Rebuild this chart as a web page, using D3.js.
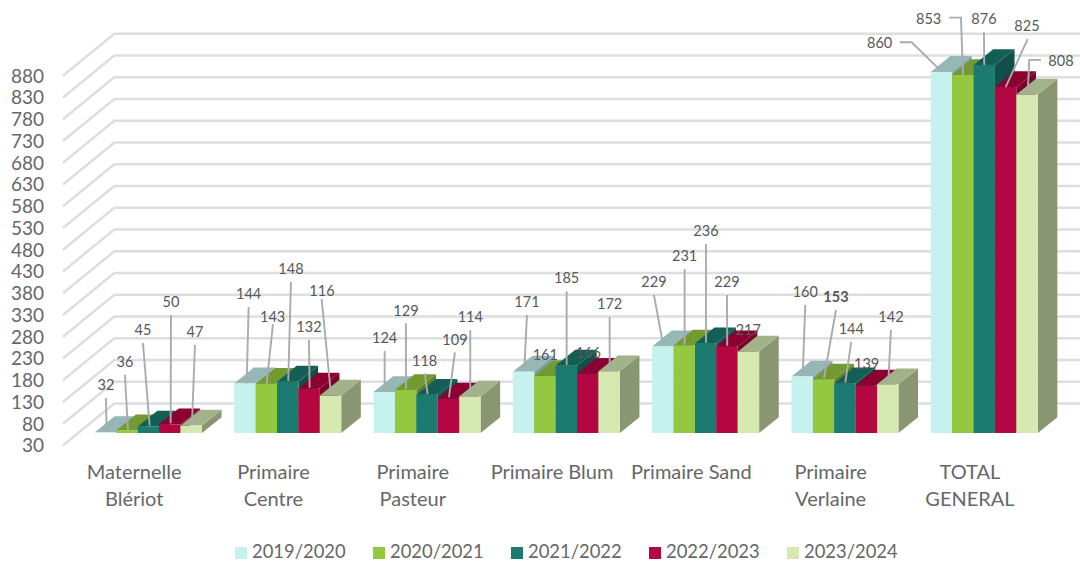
<!DOCTYPE html>
<html><head><meta charset="utf-8">
<script src="https://cdnjs.cloudflare.com/ajax/libs/d3/7.8.5/d3.min.js"></script>
<style>html,body{margin:0;padding:0;background:#fff;overflow:hidden}svg{display:block}text{font-family:Lato,"Open Sans",sans-serif}</style>
</head><body><svg id="c" width="1080" height="561"></svg>
<script>
const categories = [["Maternelle","Blériot"],["Primaire","Centre"],["Primaire","Pasteur"],["Primaire Blum"],["Primaire Sand"],["Primaire","Verlaine"],["TOTAL","GENERAL"]];
const seriesNames = ["2019/2020","2020/2021","2021/2022","2022/2023","2023/2024"];
const values2019 = [32,144,124,171,229,160,860];
const values2020 = [36,143,129,161,231,153,853];
const values2021 = [45,148,118,185,236,144,876];
const values2022 = [50,132,109,166,229,139,825];
const values2023 = [47,116,114,172,217,142,808];
const tickValues = [30,80,130,180,230,280,330,380,430,480,530,580,630,680,730,780,830,880];
const allSeries = [values2019,values2020,values2021,values2022,values2023];

const frontColors = ["#c5f2ee","#93c83f","#1c7b70","#b40640","#d5e9b0"];
const topColors   = ["#95b7b6","#739a30","#135f55","#8b0030","#a2b289"];
const sideColors  = ["#7f9d9b","#5f8228","#11504a","#7a002a","#8a9672"];

// Manual label placement relative to the top of each bar: l = label, s = leader start (from label), m = elbow (from label), e = leader end
const labelLayout = [
 [{l:[.3,-47],e:[1,0]},{l:[-2.1,-68.7],e:[.9,0]},{l:[-5.5,-96.5],e:[1.2,-1]},{l:[1.1,-122.3],e:[.8,-1]},{l:[3.7,-93.6],e:[.7,-1]}],
 [{l:[3.7,-89.4],e:[1.7,0]},{l:[6.3,-66.8],s:[.3,7],e:[.3,0]},{l:[3.2,-112.7],e:[.5,-.7]},{l:[-.2,-61.6],e:[.5,-.9]},{l:[-8.6,-104.6],s:[-.3,8],e:[.4,-1.6]}],
 [{l:[.4,-54.1],e:[.4,-1.1]},{l:[.3,-79.6],e:[.3,-.6]},{l:[-2.4,-34.4],e:[.6,-.7]},{l:[6.5,-59.3],e:[.5,-1.3]},{l:[.4,-79.2],e:[.4,-1.2]}],
 [{l:[3.4,-69.7],e:[.7,-1]},{l:[.3,-21.7]},{l:[.3,-87.3],e:[.3,-.6]},{l:[.5,-21.1]},{l:[.5,-67.2],e:[.5,-.5]}],
 [{l:[-8.9,-64.4],e:[-.6,-6.4]},{l:[.4,-89.6],e:[.4,-.6]},{l:[.3,-112.4],e:[.3,-.7]},{l:[-.1,-64.4],e:[.2,-.7]},{l:[-.2,-21.7]}],
 [{l:[3.1,-84.5],e:[.5,-.8]},{l:[12.4,-82.5],e:[.4,-1.2],bold:true},{l:[6.3,-54.4],e:[.3,-.7]},{l:[.3,-21.9]},{l:[3.2,-67.3],e:[.5,-1]}],
 [{l:[-61.8,-29],s:[20.3,-.7],m:[32,-.7],e:[.2,-.3]},{l:[-34.2,-55.7],s:[20.6,-1.6],m:[32.3,-1.6],e:[.1,0]},{l:[-.3,-45.7],e:[0,0]},{l:[21.3,-60.9],s:[.7,13],e:[0,.1]},{l:[33.9,-33.6],s:[-20,-1],m:[-31.7,-1],e:[.6,-.3]}]
];

const svg = d3.select("#c");
const W = 1080;
const depthWall = {dx:51.3, dy:-42};
const depthBar  = {dx:19.6, dy:-15.8};
const floorOffset = -12.5;                // front of the bars sits this far above the front edge of the floor
const groupWidth = 107;

const y = d3.scaleLinear().domain([30,880]).range([445.5,75.7]);
const x0 = d3.scaleBand().domain(d3.range(categories.length)).range([64.5,1039.6]);
const x1 = d3.scaleBand().domain(d3.range(seriesNames.length)).range([0,groupWidth]);
const barLeft = g => x0(g) + (x0.bandwidth()-groupWidth)/2 + 14.3;
const barTop = v => y(v) + floorOffset;
const barBase = y(30) + floorOffset;

// Walls
const grid = svg.append("g").attr("fill","none").attr("stroke","#dddedf").attr("stroke-width",2.5);
tickValues.forEach(t=>{
  grid.append("path").attr("d",d3.line()([[63,y(t)],[63+depthWall.dx,y(t)+depthWall.dy],[W,y(t)+depthWall.dy]]));
});

// Y axis tick labels
svg.append("g").selectAll("text").data(tickValues).join("text")
  .attr("x",44).attr("y",d=>y(d)).attr("dy","0.36em").attr("text-anchor","end")
  .attr("font-size",19).attr("fill","#65676b").text(d=>d);

// Bars
const w = x1.bandwidth();
const poly = pts => d3.line()(pts)+"Z";
categories.forEach((c,g)=>{
  const grp = svg.append("g");
  allSeries.forEach((vals,i)=>{
    const xl = barLeft(g)+x1(i), xr = xl+w, t = barTop(vals[g]), b = barBase;
    const {dx,dy} = depthBar;
    grp.append("path").attr("fill",sideColors[i]).attr("d",poly([[xr,t],[xr+dx,t+dy],[xr+dx,b+dy],[xr,b]]));
    grp.append("path").attr("fill",topColors[i]).attr("d",poly([[xl,t],[xl+dx,t+dy],[xr+dx,t+dy],[xr,t]]));
    grp.append("rect").attr("x",xl).attr("y",t).attr("width",w).attr("height",b-t).attr("fill",frontColors[i]);
  });
});

// Leaders and data labels
const leaders = svg.append("g").attr("fill","none").attr("stroke","#a9abae").attr("stroke-width",1.9);
const labels = svg.append("g");
categories.forEach((c,g)=>{
  allSeries.forEach((vals,i)=>{
    const layout = labelLayout[g][i];
    const ax = barLeft(g)+x1(i)+w/2, ay = barTop(vals[g]);
    const lx = ax+layout.l[0], ly = ay+layout.l[1];
    if(layout.e){
      const s = layout.s||[0,13];
      const pts = [[lx+s[0],ly+s[1]]];
      if(layout.m) pts.push([lx+layout.m[0],ly+layout.m[1]]);
      pts.push([ax+layout.e[0],ay+layout.e[1]]);
      leaders.append("path").attr("d",d3.line()(pts));
    }
    labels.append("text").attr("x",lx).attr("y",ly).attr("dy","0.36em").attr("text-anchor","middle")
      .attr("font-size",14.5).attr("fill","#55585c").attr("font-weight",layout.bold?700:400).text(vals[g]);
  });
});

// Category labels
categories.forEach((lines,g)=>{
  const t = svg.append("text").attr("text-anchor","middle").attr("font-size",20).attr("fill","#65676b");
  lines.forEach((line,k)=>{
    t.append("tspan").attr("x",x0(g)+x0.bandwidth()/2).attr("y",471.7+27*k).attr("dy","0.36em").text(line);
  });
});

// Legend
const legendX = d3.scalePoint().domain(d3.range(seriesNames.length)).range([235,787]);
seriesNames.forEach((n,i)=>{
  svg.append("rect").attr("x",legendX(i)).attr("y",547).attr("width",12).attr("height",12).attr("fill",frontColors[i]);
  svg.append("text").attr("x",legendX(i)+17).attr("y",551.5).attr("dy","0.36em").attr("font-size",18.4).attr("fill","#65676b").text(n);
});
</script></body></html>
